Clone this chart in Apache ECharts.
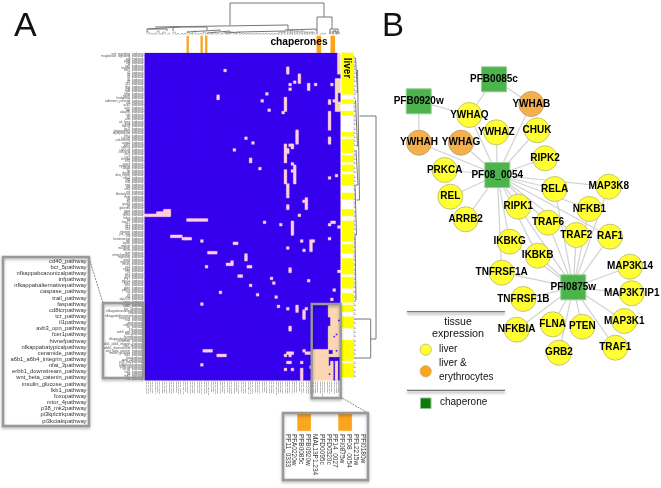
<!DOCTYPE html>
<html><head><meta charset="utf-8">
<style>html,body{margin:0;padding:0;background:#fff}#c{width:661px;height:488px}</style>
<script src="https://cdn.jsdelivr.net/npm/echarts@6/dist/echarts.min.js"></script>
</head><body><div id="c"></div>
<script>
// ---------- Panel A data ----------
const insetPathways = ["cd40_pathway","bcr_5pathway","nfkappabcanonicalpathway","tnfpathway","nfkappabalternativepathway","caspase_pathway","trail_pathway","faspathway","cd8tcrpathway","tcr_pathway","il1pathway","avb3_opn_pathway","fcer1pathway","hivnefpathway","nfkappabatypicalpathway","ceramide_pathway","a6b1_a6b4_integrin_pathway","nfat_3pathway","erbb1_downstream_pathway","wnt_beta_catenin_pathway","insulin_glucose_pathway","lkb1_pathway","foxopathway","mtor_4pathway","p38_mk2pathway","pi3kplctrkpathway","pi3kciaktpathway"];
const upperPathways = ["wnt_signaling_pathway","mapkinase_signaling_pathway","egf_pathway","pdgf_pathway","ngf_pathway","igf1_pathway","insulin_pathway","her2_pathway","il2_pathway","il3_pathway","il4_pathway","il6_pathway","il7_pathway","il10_pathway","ifng_pathway","ifna_pathway","tgfb_pathway","bmp_pathway","notch_pathway","hedgehog_pathway","adherens_junction_pathway","alk_pathway","ace2_pathway","achr_pathway","agr_pathway","akap95_pathway","akt_pathway","arf_pathway","atm_pathway","atr_brca_pathway","bad_pathway","bbcell_pathway","bcl2_pathway","biopeptides_pathway","blymphocyte_pathway","brca_pathway","cacam_pathway","calcineurin_pathway","carm1_pathway","cdk5_pathway","cdmac_pathway","cell2cell_pathway","cellcycle_pathway","ccr3_pathway","ccr5_pathway","chrebp_pathway","cK1_pathway","cxcr4_pathway","cytokine_pathway","d4gdi_pathway","dc_pathway","death_pathway","dna_repair_pathway","edg1_pathway","eif2_pathway","eif4_pathway","epo_pathway","erk_pathway","erk5_pathway","ets_pathway","fibrinolysis_pathway","fmlp_pathway","g1_pathway","g2_pathway","gata3_pathway","gh_pathway","gleevec_pathway","gpcr_pathway","gsk3_pathway","hcmv_pathway","hdac_pathway","hif_pathway","hsp27_pathway","il12_pathway","il17_pathway","il18_pathway","integrin_pathway","jak_stat_pathway","jnk_pathway","keratinocyte_pathway","lair_pathway","leptin_pathway","malate_pathway","mcalpain_pathway","mcm_pathway","met_pathway","mitochondria_pathway","mprotein_pathway","mta3_pathway","myosin_pathway","neuro_pathway","no1_pathway","npp1_pathway","nthi_pathway","p27_pathway","p53_pathway","par1_pathway","pgc1a_pathway","pitx2_pathway","pkc_pathway","pten_pathway","ptdins_pathway","ras_pathway","rb_pathway","rho_pathway","skp2e2f_pathway","sppa_pathway","stress_pathway"];
const tailPathways = ["srcrpt_pathway","tall1_pathway","tid_pathway","tnfr2_pathway","toll_pathway"];
const rowLabels = [...upperPathways, ...insetPathways, ...tailPathways];
const zoomedGenes = ["PF11_0333","PFA0220w","PFB0085c","PFB0920w","MAL13P1.234","PFD0095c","PFD0320c","PF14_0027","PFI0875w","PF08_0054","PFL2215w","PFI0180w"];
const otherGenes = ["PF10_0084","PF13_0141","PFE0130c","PF11_0351","MAL8P1.17","PFC0230c","PF07_0043","PFF0170w","PFL1070c","PF14_0218","PFB0590w","PF10_0153","PFD0280c","PFE0055c","PF13_0322","PF11_0258","MAL7P1.39","PFI0355c","PFL0565w","PF14_0359","PFA0510w","PF08_0115","PFC0975c","PFD0010w","PF13_0021","PF10_0325","PFE0250w","MAL13P1.56","PFI1105w","PFL1885c","PF14_0431","PFB0815w","PF07_0072","PFF0880c","PF11_0060","PFD0175c","PFC0105w","PF13_0258","PFE0480w","PFI0095c","PF10_0298","PFL2250c","PF14_0630","PFB0150c","MAL8P1.72","PF08_0077","PF11_0164","PFD0685c","PFC0525c","PF13_0161","PFE1215c","PFI1450c","PFL0630w","PF14_0070","PFA0390w","PF10_0207","MAL13P1.95","PFD0795w","PFF0635c","PF11_0096","PF07_0112","PFB0730w","PFC0745c","PF13_0197","PFE0915c","PFL1660c","PFI0580c","PF14_0512","PFD1120c","PF08_0023","PF11_0239","PF10_0020"];
const colLabels = [...otherGenes, ...zoomedGenes];
const chaperoneCols = [18,24,26,74,75,80,81];
const pinkRuns = [[34,34,7,7],[61,61,6,8],[66,66,9,12],[64,64,12,12],[62,62,13,13],[73,73,13,13],[80,80,13,13],[70,70,13,15],[62,62,15,15],[52,52,17,17],[31,31,18,19],[50,50,20,20],[60,60,19,24],[79,79,20,21],[81,81,20,20],[53,53,24,24],[59,59,25,25],[79,79,25,32],[65,65,33,38],[79,79,36,38],[43,43,36,36],[46,46,38,38],[38,38,41,41],[60,60,39,46],[61,61,41,42],[62,63,39,39],[63,63,40,40],[45,45,45,46],[63,63,47,47],[64,64,48,55],[49,49,49,49],[60,60,50,55],[63,63,50,50],[79,79,53,53],[82,82,52,52],[61,61,56,61],[69,69,62,62],[69,69,63,66],[68,68,63,63],[61,61,65,66],[0,4,69,69],[5,7,68,69],[8,10,67,69],[66,66,69,69],[18,26,71,71],[51,51,72,72],[58,58,73,73],[63,63,72,77],[79,79,73,73],[80,81,72,72],[83,83,74,74],[11,15,78,78],[16,19,79,79],[24,24,80,80],[38,39,81,81],[79,79,79,79],[67,67,80,80],[71,71,80,84],[72,72,80,80],[61,61,83,83],[68,68,84,84],[27,30,85,85],[43,43,86,88],[35,37,90,90],[37,37,89,89],[26,26,91,91],[44,45,91,91],[62,62,92,93],[83,83,93,93],[40,41,95,95],[54,54,96,96],[70,70,97,97],[55,55,98,98],[45,45,99,99],[81,81,101,101],[32,32,102,102],[48,48,103,103],[56,56,104,104],[80,80,105,105],[24,24,107,107],[57,57,108,108],[61,61,109,109],[65,65,108,110],[68,68,110,113],[69,69,109,109],[62,62,117,118],[25,28,127,127],[31,34,129,129],[24,24,133,133],[60,60,129,129],[61,63,128,128],[62,62,129,129],[61,62,132,132],[67,67,132,132],[68,68,127,127],[69,71,128,128],[60,60,135,135],[63,63,135,135],[67,67,135,139],[71,71,134,134]];
const peachRuns = [[83,83,0,8],[82,83,11,24],[79,83,108,129],[72,78,127,139],[79,83,132,139]];
const blueRuns = [[83,83,17,20],[83,83,114,114],[79,79,113,116],[82,82,120,120],[81,81,121,121],[79,80,127,128],[82,82,127,127],[79,83,130,131],[81,81,132,139],[83,83,132,139],[79,79,132,133],[79,79,137,137]];
const liverRuns = [[0,17],[20,21],[25,26],[34,35],[37,42],[44,46],[48,50],[52,56],[60,62],[67,69],[72,73],[74,80],[82,85],[88,90],[91,94],[96,96],[97,100],[103,106],[108,110],[113,115],[116,117],[123,131],[133,134],[135,136],[137,138]];
// dendrogram pieces, read in page units: [from, to, crest, legFrom, legTo]
const topBranches = [[230,324,3,25,17],[317,332,17,33,29],[330,338,29,34,34],[333,336,31,34,34],[155,288,25,27,30],[147,180,27,29,27],[147,167,29,32,31],[173,207,27,31,30],[187,220,30,32,31],[207,230,31,33,32],[225,240,32,33,33],[240,285,31,32,31],[285,316,29,30,31]];
const topLeaves = [[147,32],[150,33],[153,33],[157,31],[160,33],[163,32],[167,33],[173,32],[176,33],[180,33],[183,33],[187,32],[190,33],[193,31],[196,33],[199,33],[203,32],[206,33],[210,33],[213,32],[216,33],[220,33],[224,32],[227,33],[231,32],[234,33],[237,32],[240,33],[243,33],[246,33],[249,33],[252,33],[255,33],[258,33],[261,33],[264,33],[267,33],[270,33],[273,33],[276,33],[279,32],[282,32],[285,31],[288,30],[290,30],[292,30],[295,31],[297,31],[300,31],[302,31],[305,32],[307,32],[310,32],[312,32],[315,33],[320,33],[323,33],[330,32],[334,31],[337,32]];
const rightBranches = [[116,339,376,359.5,370.7],[319,358,370.7,355,355],[70,200,359.5,357.5,356.5],[58,92,357.5,355.5,355.5],[100,146,357.5,355.5,356],[150,185,358,356,356],[185,235,356.5,355,355],[235,300,356,355,355]];
const rightLeaves = [56,60,64,67,71,75,79,84,88,92,96,101,105,109,114,118,122,127,131,135,139,143,149,153,157,161,166,170,175,179,183,188,193,197,201,205,210,214,219,223,227,232,237,241,245,250,254,258,263,268,272,277,281,285,290,295,299,303,308,312,317,321,326,330,334,339,343,348,352,356,361,365,370,374];

// ---------- Panel B data ----------
const nodeNames = ["PFB0085c","PFB0920w","YWHAB","YWHAQ","YWHAZ","CHUK","YWHAH","YWHAG","RIPK2","PF08_0054","PRKCA","REL","RELA","MAP3K8","RIPK1","NFKB1","ARRB2","TRAF6","TRAF2","RAF1","IKBKG","IKBKB","TNFRSF1A","MAP3K14","PFI0875w","MAP3K7IP1","TNFRSF1B","MAP3K1","NFKBIA","FLNA","PTEN","GRB2","TRAF1"];
const nodeX = [494,418.7,531.3,469.3,496.3,537,419,461,545,497.3,444.7,450.3,554.7,608.7,518.3,589.3,465.7,548,576.3,610,509.7,537.7,501.7,630,573.3,631.7,523.3,624.3,516.7,552.7,582.3,559,615.3];
const nodeY = [79.3,101.3,104,115,132.3,130.3,142.7,142.7,158.3,175,170,196.7,189,186.7,206.7,209,219.3,222.7,235,236.7,241.7,255.7,272.7,266.7,287.3,293.3,299,321,329.7,324.3,326.7,352.7,347.7];
const nodeKinds = ["chaperone","chaperone","both","liver","liver","liver","both","both","liver","chaperone","liver","liver","liver","liver","liver","liver","liver","liver","liver","liver","liver","liver","liver","liver","chaperone","liver","liver","liver","liver","liver","liver","liver","liver"];
const edgePairs = [["PFB0085c","YWHAQ"],["PFB0085c","YWHAB"],["PFB0920w","YWHAQ"],["PFB0920w","YWHAH"],
 ["PF08_0054","YWHAQ"],["PF08_0054","YWHAZ"],["PF08_0054","YWHAB"],["PF08_0054","CHUK"],["PF08_0054","RIPK2"],["PF08_0054","YWHAH"],["PF08_0054","YWHAG"],["PF08_0054","PRKCA"],["PF08_0054","REL"],["PF08_0054","ARRB2"],["PF08_0054","RELA"],["PF08_0054","MAP3K8"],["PF08_0054","NFKB1"],["PF08_0054","RIPK1"],["PF08_0054","TRAF6"],["PF08_0054","TRAF2"],["PF08_0054","RAF1"],["PF08_0054","IKBKG"],["PF08_0054","IKBKB"],["PF08_0054","TNFRSF1A"],
 ["PFI0875w","MAP3K14"],["PFI0875w","MAP3K7IP1"],["PFI0875w","MAP3K1"],["PFI0875w","TRAF1"],["PFI0875w","PTEN"],["PFI0875w","GRB2"],["PFI0875w","FLNA"],["PFI0875w","NFKBIA"],["PFI0875w","TNFRSF1B"],["PFI0875w","TNFRSF1A"],["PFI0875w","IKBKB"],["PFI0875w","IKBKG"],["PFI0875w","RIPK1"],["PFI0875w","TRAF6"],["PFI0875w","TRAF2"],["PFI0875w","RELA"],["PFI0875w","RAF1"],["PFI0875w","NFKB1"],["PFI0875w","MAP3K8"]];

// ---------- build ----------
const FONT = '"Liberation Sans", Arial, sans-serif';
const V = {blue:0,pink:1,peach:2,yellow:3,orange:4,white:5};
const palette = ['#3800ee','#ffcfe2','#fcd8b4','#ffff00','#fba51e','#ffffff'];
const matrix = rowLabels.map(()=>colLabels.map(()=>V.blue));
const paint=(runs,v)=>runs.forEach(([c0,c1,r0,r1])=>{for(let r=r0;r<=r1;r++)for(let c=c0;c<=c1;c++)matrix[r][c]=v;});
paint(peachRuns,V.peach);paint(pinkRuns,V.pink);paint(blueRuns,V.blue);
// a hairline border in the cell's own colour hides the seams between fractional-width cells
const cell=(c,r,v)=>({value:[c,r,v],itemStyle:{borderColor:palette[v],borderWidth:0.3}});
const mainCells=[];matrix.forEach((row,r)=>row.forEach((v,c)=>mainCells.push(cell(c,r,v))));
mainCells.sort((a,b)=>(a.value[2]===V.blue?0:1)-(b.value[2]===V.blue?0:1));
const chapCells=colLabels.map((_,c)=>chaperoneCols.includes(c)?[c,0,V.orange]:[c,0,V.white]);
const insetCells=zoomedGenes.map((_,i)=>cell(i,0,chaperoneCols.includes(i+72)?V.orange:V.white));
const liverCells=rowLabels.map((_,r)=>cell(0,r,liverRuns.some(([a,b])=>r>=a&&r<=b)?V.yellow:V.white));

const gap=['-','-'];
const topPath=b=>[[b[0],b[3]],[b[0],b[2]],[b[1],b[2]],[b[1],b[4]],gap];
const rightPath=b=>[[b[3],b[0]],[b[2],b[0]],[b[2],b[1]],[b[4],b[1]],gap];
const majorLines=[...topBranches.flatMap(topPath),...rightBranches.flatMap(rightPath)];
const minorLines=[...topLeaves.flatMap(([x,y])=>topPath([x,x+2.3,y,34.5,34.5])),
 ...rightLeaves.flatMap(y=>rightPath([y,y+2.6,355.5,353.5,353.5]))];

const kindStyle={liver:{color:'#ffff33',borderColor:'#c6c673'},both:{color:'#f5b04e',borderColor:'#c9a265'},chaperone:{color:'#4db34d',borderColor:'#96cf96'}};
const graphNodes=nodeNames.map((n,i)=>({name:n,value:[nodeX[i],nodeY[i]],symbol:nodeKinds[i]==='chaperone'?'rect':'circle',symbolSize:25,itemStyle:{...kindStyle[nodeKinds[i]],borderWidth:1}}));
const graphLinks=edgePairs.map(([source,target])=>({source,target}));

const cat=(data,extra)=>Object.assign({type:'category',data,axisLine:{show:false},axisTick:{show:false},axisLabel:{show:false},splitLine:{show:false},splitArea:{show:false}},extra);
const heat=(xAxisIndex,yAxisIndex,data,z=1)=>({type:'heatmap',xAxisIndex,yAxisIndex,data,progressive:0,silent:true,z,itemStyle:{borderWidth:0},emphasis:{disabled:true}});
const frame=(x,y,w,h,fill)=>({type:'rect',z:50,shape:{x,y,width:w,height:h},style:{fill:fill||'none',stroke:'#999',lineWidth:2.4,shadowBlur:3,shadowColor:'rgba(0,0,0,.3)',shadowOffsetY:1.5}});
const txt=(text,x,y,fontSize,o={})=>({type:'text',z:60,x,y,rotation:o.rotation||0,style:{text,x:0,y:0,fontSize,fontWeight:o.weight||'normal',fontFamily:FONT,fill:o.fill||'#111',align:o.align||'left',verticalAlign:'middle'}});
const rule=y=>({type:'line',z:40,shape:{x1:407,y1:y,x2:505,y2:y},style:{stroke:'#777',lineWidth:1.2,shadowBlur:3,shadowColor:'rgba(0,0,0,.45)',shadowOffsetY:2}});
const conn=(x1,y1,x2,y2)=>({type:'line',z:45,shape:{x1,y1,x2,y2},style:{stroke:'#888',lineWidth:1,lineDash:[2,1]}});

const graphic=[
 txt('A',14,27,34),txt('B',382,27,33),
 txt('chaperones',299,42,10.2,{weight:'bold',align:'center',fill:'#000'}),
 txt('liver',347,68,10,{weight:'bold',align:'center',fill:'#000',rotation:-Math.PI/2}),
 frame(3,257,86,169),frame(103,303,40.5,75),frame(311.7,304,29,94),frame(283,413,85,67),
 conn(89,258,103,303),conn(342,398,368,413),
 ...insetPathways.map((n,i)=>txt(n,86.5,261+i*6.15,5.8,{align:'right',fill:'#333'})),
 rule(311.7),rule(390.3),
 txt('tissue',458,322,10.5,{align:'center'}),txt('expression',458,334,10.8,{align:'center'}),
 {type:'circle',z:40,shape:{cx:425.7,cy:349.7,r:5.6},style:{fill:'#ffff33',stroke:'#c6c673',lineWidth:1}},
 {type:'circle',z:40,shape:{cx:425.7,cy:371.3,r:5.6},style:{fill:'#fba51e',stroke:'#d8b070',lineWidth:1}},
 {type:'rect',z:40,shape:{x:420.5,y:398,width:10.5,height:10.5},style:{fill:'#0c7a0c',stroke:'#8fbf8f',lineWidth:1}},
 txt('liver',439,349.7,10),txt('liver &',439,363.7,10),txt('erythrocytes',439,377.7,10),txt('chaperone',440,402.5,10)
];

const option={
 animation:false,backgroundColor:'#fff',
 grid:[
  {left:0,top:0,width:661,height:488,containLabel:false},
  {left:145,top:53,width:195,height:327,show:true,backgroundColor:palette[V.blue],borderWidth:0},
  {left:145,top:36,width:195,height:16.5},
  {left:342,top:53,width:11,height:327},
  {left:284,top:413.5,width:82,height:17}
 ],
 xAxis:[
  {type:'value',gridIndex:0,min:0,max:661,show:false},
  cat(colLabels,{gridIndex:1,axisLabel:{show:true,interval:0,rotate:-90,fontSize:2.4,margin:1.5,color:'#444',fontFamily:FONT,hideOverlap:false}}),
  cat(colLabels,{gridIndex:2}),
  cat(['liver'],{gridIndex:3}),
  cat(zoomedGenes,{gridIndex:4,axisLabel:{show:true,interval:0,rotate:-90,fontSize:6.5,margin:3.5,color:'#333',fontFamily:FONT,hideOverlap:false}})
 ],
 yAxis:[
  {type:'value',gridIndex:0,min:0,max:488,inverse:true,show:false},
  cat(rowLabels,{gridIndex:1,inverse:true,axisLabel:{show:true,interval:0,fontSize:3.1,margin:1.5,color:'#555',fontFamily:FONT,hideOverlap:false}}),
  cat(['chaperone'],{gridIndex:2}),
  cat(rowLabels,{gridIndex:3,inverse:true}),
  cat(['chaperone'],{gridIndex:4})
 ],
 visualMap:{type:'piecewise',show:false,dimension:2,seriesIndex:[0,1,2,3],pieces:palette.map((color,value)=>({value,color}))},
 series:[
  heat(1,1,mainCells),heat(2,2,chapCells),heat(3,3,liverCells),heat(4,4,insetCells),
  {type:'line',xAxisIndex:0,yAxisIndex:0,data:majorLines,symbol:'none',connectNulls:false,silent:true,clip:false,lineStyle:{color:'#777',width:1},z:3},
  {type:'line',xAxisIndex:0,yAxisIndex:0,data:minorLines,symbol:'none',connectNulls:false,silent:true,clip:false,lineStyle:{color:'#777',width:0.5},z:3},
  {type:'graph',coordinateSystem:'cartesian2d',xAxisIndex:0,yAxisIndex:0,layout:'none',silent:true,z:5,
   data:graphNodes,links:graphLinks,
   lineStyle:{color:'#d2d2d2',width:1.2,opacity:1},
   label:{show:true,position:'inside',color:'#000',fontSize:10,fontWeight:'bold',fontFamily:FONT},
   emphasis:{disabled:true}}
 ],
 graphic
};
const chart=echarts.init(document.getElementById('c'),null,{renderer:'canvas'});
chart.setOption(option);
</script></body></html>
